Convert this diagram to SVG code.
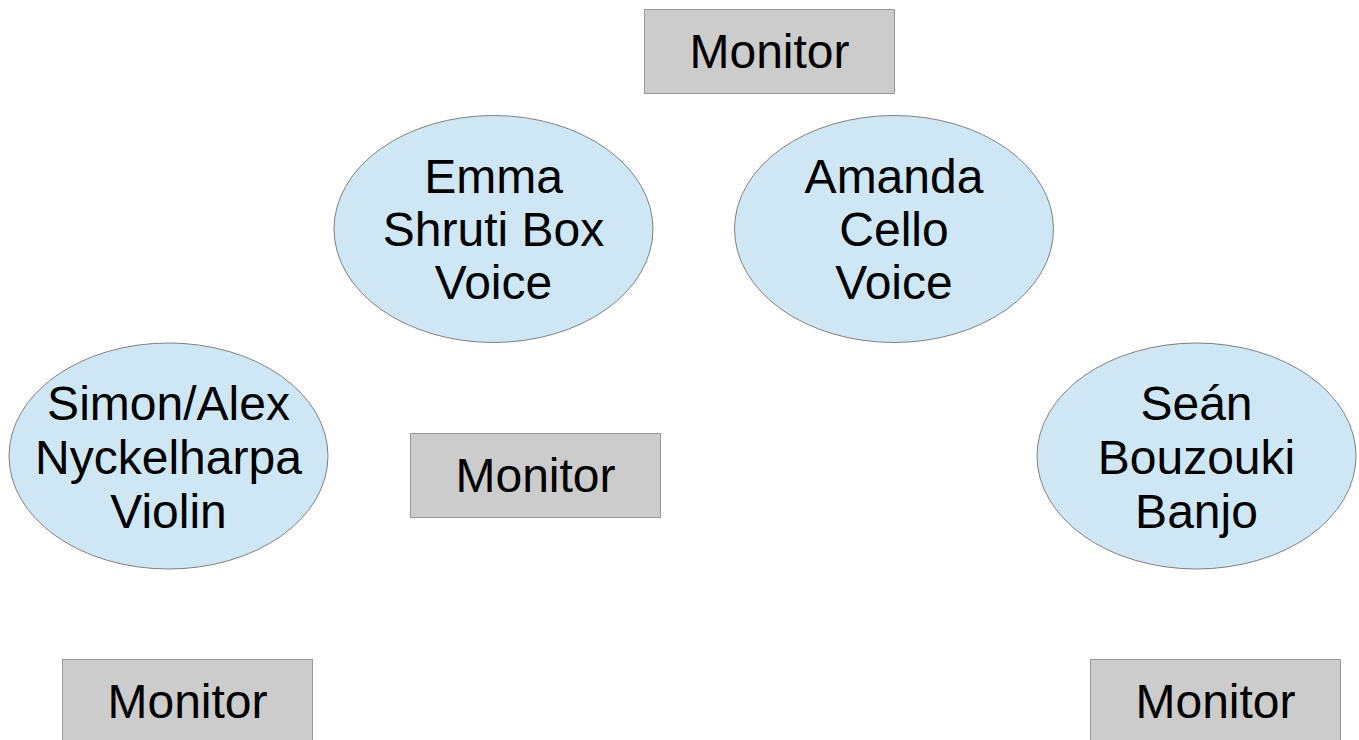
<svg xmlns="http://www.w3.org/2000/svg" width="1359" height="740" viewBox="0 0 1359 740">
<style>
.mon{fill:#cccccc;stroke:#999999;stroke-width:1}
.mus{fill:#cfe7f5;stroke:#808080;stroke-width:1}
text{font-family:"Liberation Sans",Arial,sans-serif;font-size:48px;fill:#000;text-anchor:middle}
</style>
<rect width="1359" height="740" fill="#ffffff"/>
<g id="connectors"></g>
<g id="monitor-top"><rect class="mon" x="644.5" y="9.5" width="250" height="84"/><text x="769.5" y="68">Monitor</text></g>
<g id="monitor-mid"><rect class="mon" x="410.5" y="433.5" width="250" height="84"/><text x="535.5" y="492">Monitor</text></g>
<g id="monitor-bl"><rect class="mon" x="62.5" y="659.5" width="250" height="84"/><text x="187.5" y="718">Monitor</text></g>
<g id="monitor-br"><rect class="mon" x="1090.5" y="659.5" width="250" height="84"/><text x="1215.5" y="718">Monitor</text></g>
<g id="emma"><ellipse class="mus" cx="493.5" cy="229" rx="159.5" ry="113.5"/><text x="493.5" y="193">Emma</text><text x="493.5" y="246">Shruti Box</text><text x="493.5" y="299">Voice</text></g>
<g id="amanda"><ellipse class="mus" cx="894" cy="229" rx="159.5" ry="113.5"/><text x="894" y="193">Amanda</text><text x="894" y="246">Cello</text><text x="894" y="299">Voice</text></g>
<g id="simon"><ellipse class="mus" cx="168.5" cy="456" rx="159.5" ry="113"/><text x="168.5" y="420">Simon/Alex</text><text x="168.5" y="474">Nyckelharpa</text><text x="168.5" y="528">Violin</text></g>
<g id="sean"><ellipse class="mus" cx="1196.5" cy="456" rx="159.5" ry="113"/><text x="1196.5" y="420">Seán</text><text x="1196.5" y="474">Bouzouki</text><text x="1196.5" y="528">Banjo</text></g>
</svg>
